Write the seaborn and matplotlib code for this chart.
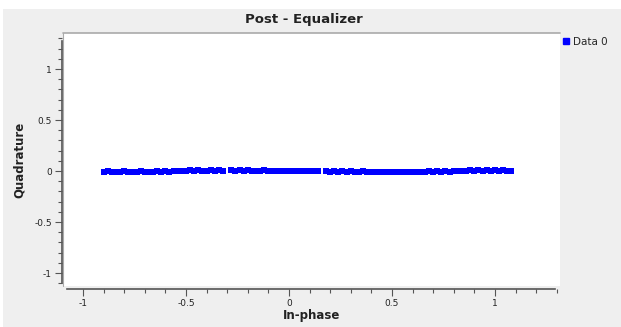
import matplotlib
matplotlib.use("Agg")
import matplotlib.pyplot as plt
from matplotlib.patches import Rectangle
from matplotlib.ticker import MultipleLocator
import seaborn as sns
import pandas as pd

# constellation points (In-phase, Quadrature)
in_phase = [
    -0.90, -0.88, -0.86, -0.84, -0.82, -0.80, -0.78, -0.76, -0.74, -0.72,
    -0.70, -0.68, -0.66, -0.64, -0.62, -0.60, -0.58, -0.56, -0.54, -0.52,
    -0.50, -0.48, -0.46, -0.44, -0.42, -0.40, -0.38, -0.36, -0.34, -0.32,
    -0.28, -0.26, -0.24, -0.22, -0.20, -0.18, -0.16, -0.14, -0.12, -0.10,
    -0.08, -0.06, -0.04, -0.02, 0.00, 0.02, 0.04, 0.06, 0.08, 0.10,
    0.12, 0.14,
    0.18, 0.20, 0.22, 0.24, 0.26, 0.28, 0.30, 0.32, 0.34, 0.36,
    0.38, 0.40, 0.42, 0.44, 0.46, 0.48, 0.50, 0.52, 0.54, 0.56,
    0.58, 0.60, 0.62, 0.64, 0.66, 0.68, 0.70, 0.72, 0.74, 0.76,
    0.78, 0.80, 0.82, 0.84, 0.86, 0.88, 0.90, 0.92, 0.94, 0.96,
    0.98, 1.00, 1.02, 1.04, 1.06, 1.08,
]
quadrature = [
    -0.010, -0.004, -0.012, -0.006, -0.011, -0.003, -0.009, -0.005, -0.012, -0.004,
    -0.008, -0.006, -0.010, -0.003, -0.007, -0.002, -0.006, 0.001, -0.003, 0.003,
    0.002, 0.006, 0.001, 0.007, 0.003, 0.005, 0.008, 0.002, 0.006, 0.004,
    0.006, 0.002, 0.008, 0.004, 0.007, 0.001, 0.005, 0.003, 0.006, 0.002,
    0.004, 0.000, 0.003, -0.001, 0.002, -0.002, 0.001, -0.003, 0.000, -0.002,
    0.001, -0.004,
    -0.003, -0.006, -0.002, -0.005, -0.004, -0.007, -0.003, -0.006, -0.008, -0.004,
    -0.009, -0.007, -0.011, -0.006, -0.010, -0.008, -0.012, -0.006, -0.010, -0.007,
    -0.011, -0.006, -0.009, -0.005, -0.010, -0.004, -0.008, -0.003, -0.007, -0.002,
    -0.005, 0.000, -0.003, 0.004, -0.001, 0.006, 0.000, 0.008, 0.002, 0.009,
    0.003, 0.008, 0.002, 0.006, 0.001, 0.000,
]
x_ticks = [-1, -0.5, 0, 0.5, 1]
y_ticks = [-1, -0.5, 0, 0.5, 1]

df = pd.DataFrame({"In-phase": in_phase, "Quadrature": quadrature})

sns.set_style("white")
plt.rcParams["font.family"] = ["DejaVu Sans"]
text_col = "#222222"

W, H = 621, 327
fig = plt.figure(figsize=(W / 100, H / 100), dpi=100, facecolor="white")
# gray widget background
fig.patches.append(Rectangle((3 / W, 0), 1, 1 - 9 / H, transform=fig.transFigure,
                             facecolor="#efefef", edgecolor="none", zorder=-10))

ax = fig.add_axes([63 / W, 1 - 286 / H, (560 - 63) / W, (286 - 33) / H])
ax.set_facecolor("white")

sns.scatterplot(data=df, x="In-phase", y="Quadrature", ax=ax, marker="s",
                color="#0000ff", s=19, linewidth=0, label="Data 0", legend=False)

ax.set_xlim(-1.097, 1.316)
ax.set_ylim(-1.127, 1.353)
ax.set_xticks(x_ticks)
ax.set_yticks(y_ticks)
ax.set_xticklabels([f"{t:g}" for t in x_ticks])
ax.set_yticklabels([f"{t:g}" for t in y_ticks])
ax.xaxis.set_minor_locator(MultipleLocator(0.1))
ax.yaxis.set_minor_locator(MultipleLocator(0.1))

for side in ["top", "right"]:
    ax.spines[side].set_visible(False)
for side in ["left", "bottom"]:
    ax.spines[side].set_color("#555555")
    ax.spines[side].set_linewidth(1.2)
ax.spines["left"].set_position(("outward", 1))
ax.spines["bottom"].set_position(("outward", 2))
ax.spines["bottom"].set_bounds(-1.078, 1.29)
ax.spines["left"].set_bounds(-1.1, 1.27)

ax.tick_params(which="major", direction="out", length=5, width=0.8, color="#555555",
               labelsize=6.5, labelcolor=text_col, pad=2, left=True, bottom=True)
ax.tick_params(which="minor", direction="out", length=3, width=0.8, color="#555555",
               left=True, bottom=True)

ax.set_xlabel("In-phase", fontsize=8.5, fontweight="bold", color=text_col, labelpad=1)
ax.set_ylabel("Quadrature", fontsize=8.5, fontweight="bold", color=text_col, labelpad=6)
fig.text(0.49, 1 - 20 / H, "Post - Equalizer", ha="center", va="center",
         fontsize=9.5, fontweight="bold", color=text_col)

# thin canvas frame on top/left like the Qt plot
ax.plot([0, 1], [1, 1], transform=ax.transAxes, color="#aaaaaa", lw=1.2, clip_on=False)
ax.plot([0, 0], [0, 1], transform=ax.transAxes, color="#aaaaaa", lw=0.8, clip_on=False)

handle = plt.Line2D([], [], marker="s", color="#0000ff", linestyle="none", markersize=4)
fig.legend([handle], ["Data 0"], loc="center left", bbox_to_anchor=(563 / W, 1 - 42 / H),
           frameon=False, fontsize=7.5, handlelength=0.6, handletextpad=0.4,
           borderaxespad=0, borderpad=0)

fig.savefig("out.png", dpi=100, facecolor=fig.get_facecolor())
